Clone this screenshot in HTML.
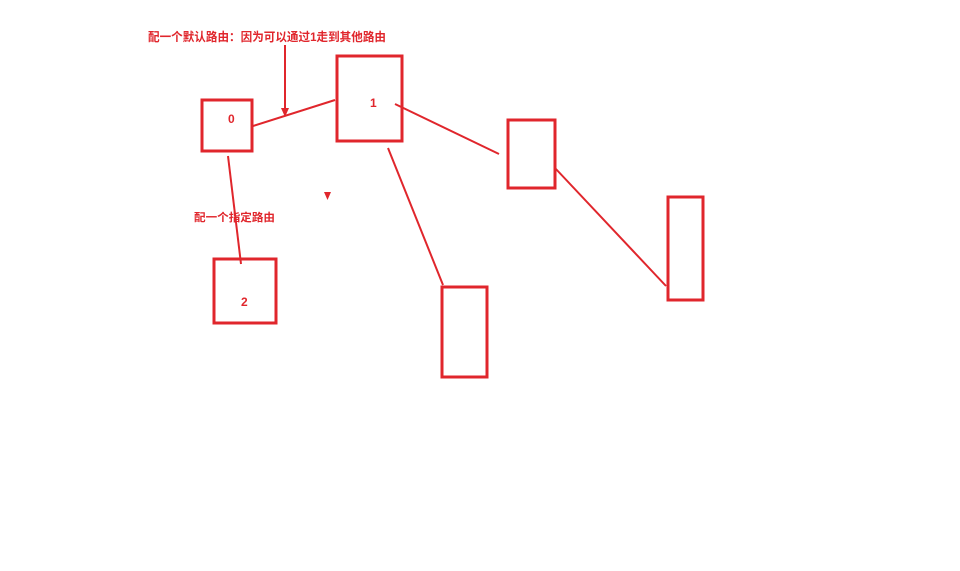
<!DOCTYPE html>
<html><head><meta charset="utf-8"><style>
html,body{margin:0;padding:0;background:#fff;width:960px;height:571px;overflow:hidden}
svg{display:block}
text{font-family:"Liberation Sans","Noto Sans CJK SC",sans-serif;font-weight:bold;fill:#e0262c}
</style></head><body>
<svg width="960" height="571" viewBox="0 0 960 571">
<g fill="none" stroke="#e0262c" stroke-width="3">
<rect x="202" y="100" width="50" height="51"/>
<rect x="337" y="56" width="65" height="85"/>
<rect x="214" y="259" width="62" height="64"/>
<rect x="508" y="120" width="47" height="68"/>
<rect x="442" y="287" width="45" height="90"/>
<rect x="668" y="197" width="35" height="103"/>
</g>
<g stroke="#e0262c" stroke-width="2" fill="none">
<line x1="253" y1="126" x2="335" y2="100"/>
<line x1="395" y1="104" x2="499" y2="154"/>
<line x1="388" y1="148" x2="443" y2="285"/>
<line x1="555" y1="168" x2="666" y2="286"/>
<line x1="228" y1="156" x2="241" y2="264"/>
<line x1="285" y1="45" x2="285" y2="110"/>
</g>
<polygon points="281,108 289,108 285,117" fill="#e0262c"/>
<polygon points="324,192 331,192 327.5,200" fill="#e0262c"/>
<text x="148" y="41" font-size="12" textLength="238" lengthAdjust="spacingAndGlyphs">配一个默认路由：因为可以通过1走到其他路由</text>
<text x="194" y="221" font-size="11" textLength="81" lengthAdjust="spacingAndGlyphs">配一个指定路由</text>
<text x="228" y="123" font-size="12">0</text>
<text x="370" y="107" font-size="12">1</text>
<text x="241" y="306" font-size="12">2</text>
</svg>
</body></html>
